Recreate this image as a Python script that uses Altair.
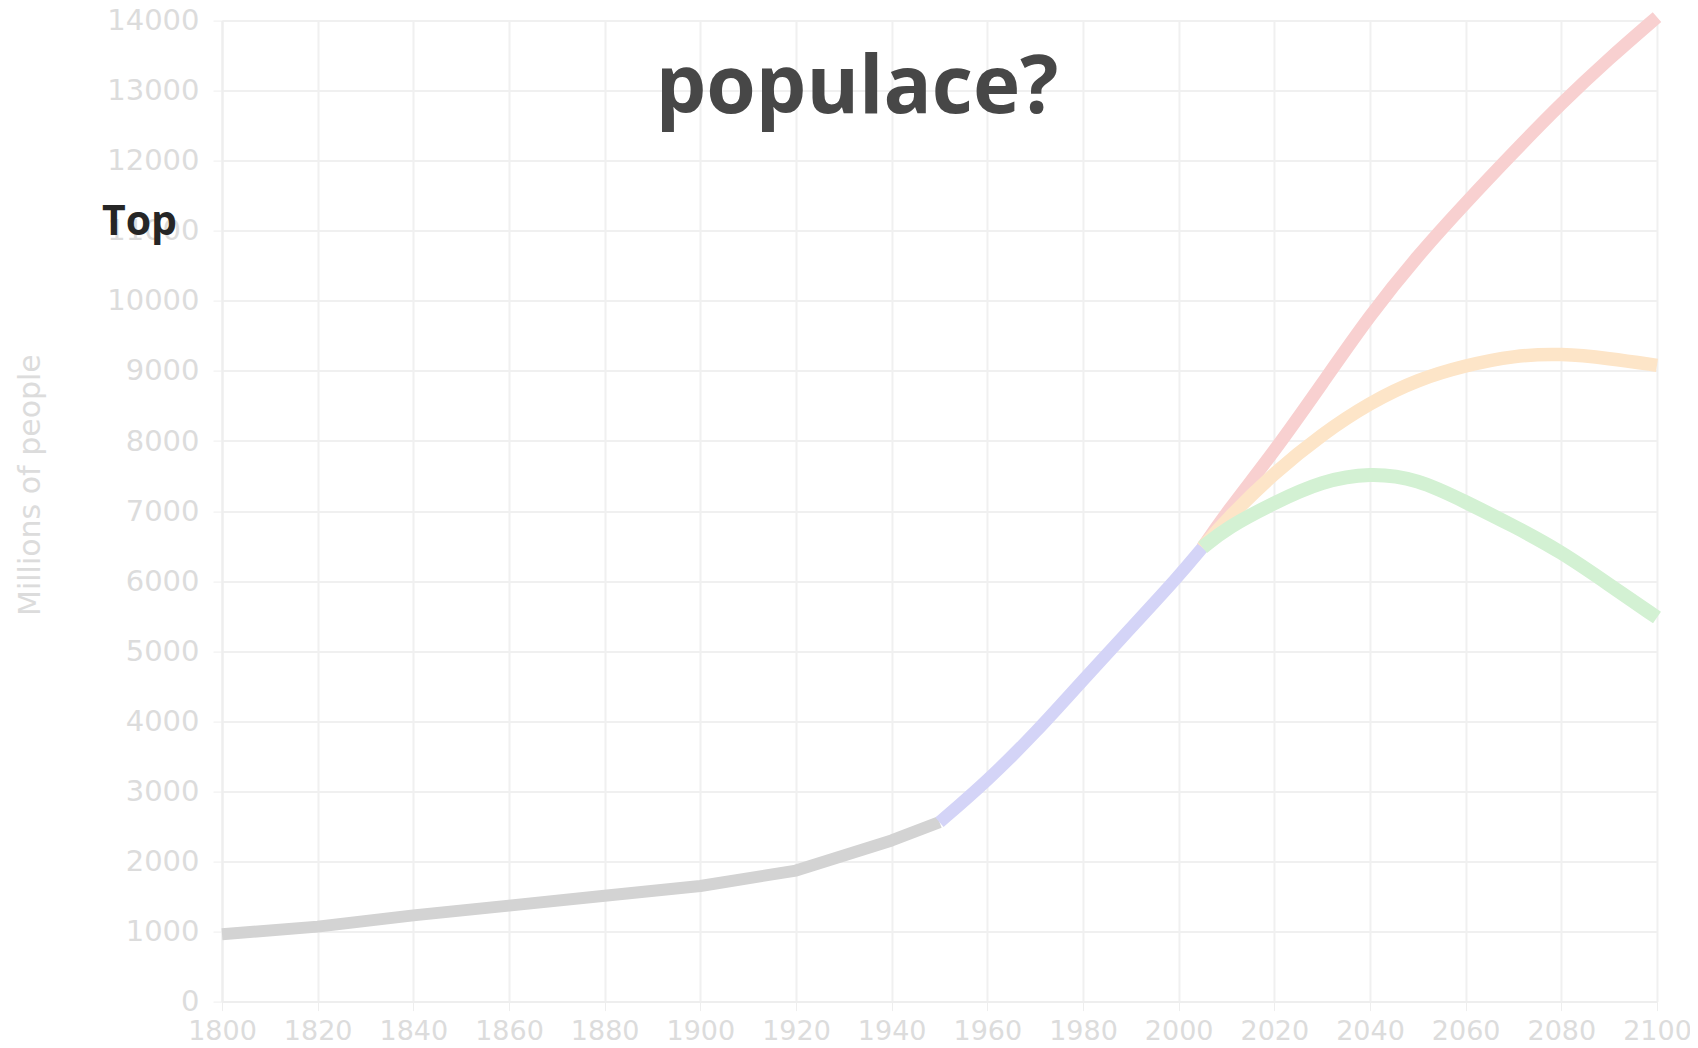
import altair as alt
import pandas as pd

# Historical (gray)
hist_years = [1800, 1820, 1840, 1860, 1880, 1900, 1920, 1940, 1950]
hist_pop = [960, 1070, 1230, 1370, 1510, 1650, 1870, 2300, 2560]
# Recent (blue)
recent_years = [1950, 1960, 1970, 1980, 1990, 2000, 2005]
recent_pop = [2560, 3150, 3830, 4590, 5330, 6070, 6480]
# Projections
proj_years = [2005, 2010, 2020, 2030, 2040, 2050, 2060, 2070, 2080, 2090, 2100]
high_pop = [6480, 6980, 7850, 8820, 9800, 10650, 11400, 12120, 12820, 13460, 14050]
medium_pop = [6480, 6880, 7550, 8100, 8550, 8880, 9080, 9220, 9250, 9180, 9080]
low_pop = [6480, 6760, 7120, 7430, 7550, 7460, 7130, 6790, 6420, 5950, 5480]

series_names = ["Historical", "Recent", "High", "Medium", "Low"]
series_colors = ["#d3d3d3", "#d4d4f7", "#f8d0d0", "#fde5c8", "#d3f1d3"]
series_widths = [12, 14, 13, 9, 11]

x_ticks = list(range(1800, 2101, 20))
y_ticks = list(range(0, 14001, 1000))

rows = []
for name, ys, vs in [("Historical", hist_years, hist_pop), ("Recent", recent_years, recent_pop),
                     ("High", proj_years, high_pop), ("Medium", proj_years, medium_pop),
                     ("Low", proj_years, low_pop)]:
    for y, v in zip(ys, vs):
        rows.append({"series": name, "year": y, "pop": v})
df = pd.DataFrame(rows)

TITLE_FONT = "Open Sans"
AXIS_FONT = "DejaVu Sans"
LIGHT = "#dcdcdc"

x_enc = alt.X("year:Q", scale=alt.Scale(domain=[1800, 2100], nice=False),
              axis=alt.Axis(values=x_ticks, format="d", title=None, labelFontSize=27,
                            labelColor=LIGHT, labelFont=AXIS_FONT, labelPadding=8,
                            tickSize=9, tickColor="#eeeeee", domainColor="#eeeeee",
                            domainWidth=2, gridColor="#f0f0f0", gridWidth=2,
                            labelFlush=False))
y_enc = alt.Y("pop:Q", scale=alt.Scale(domain=[0, 14000], nice=False),
              axis=alt.Axis(values=y_ticks, format="d", title="Millions of people",
                            labelFontSize=29, labelColor=LIGHT, labelFont=AXIS_FONT,
                            labelPadding=14, tickSize=9, tickColor="#eeeeee",
                            domainColor="#eeeeee", domainWidth=2, gridColor="#f0f0f0",
                            gridWidth=2, titleFont=AXIS_FONT, titleFontSize=30,
                            titleFontWeight="normal", titleColor=LIGHT, titleAngle=270,
                            titleX=-192, titleY=464, titleAlign="center",
                            titleBaseline="middle", labelFlush=False))

color_enc = alt.Color("series:N", scale=alt.Scale(domain=series_names, range=series_colors), legend=None)
width_enc = alt.StrokeWidth("series:N", scale=alt.Scale(domain=series_names, range=series_widths), legend=None)

hist = alt.Chart(df).transform_filter(alt.datum.series == "Historical").mark_line(
    interpolate="linear", strokeCap="butt", strokeJoin="round"
).encode(x=x_enc, y=y_enc, color=color_enc, strokeWidth=width_enc, detail="series:N")

others = alt.Chart(df).transform_filter(alt.datum.series != "Historical").mark_line(
    interpolate="basis", strokeCap="butt", strokeJoin="round"
).encode(x=x_enc, y=y_enc, color=color_enc, strokeWidth=width_enc, detail="series:N")

title_df = pd.DataFrame({"t": ["populace?"]})
title_mark = alt.Chart(title_df).mark_text(
    font=TITLE_FONT, fontSize=80, fontWeight="bold", color="#474747", align="center", baseline="alphabetic"
).encode(text="t:N", x=alt.value(635), y=alt.value(92))

top_df = pd.DataFrame({"t": ["Top"]})
top_mark = alt.Chart(top_df).mark_text(
    font=TITLE_FONT, fontSize=41, fontWeight="bold", color="#262626", align="left", baseline="alphabetic"
).encode(text="t:N", x=alt.value(-120), y=alt.value(214))

chart = alt.layer(hist, others, title_mark, top_mark).properties(
    width=1435, height=981,
    autosize=alt.AutoSizeParams(type="none"),
    padding={"left": 214, "top": 12.6, "right": 33, "bottom": 44},
).configure_view(stroke=None).configure(background="white")

chart.save("out.html", embed_options={"renderer": "svg", "actions": False})
